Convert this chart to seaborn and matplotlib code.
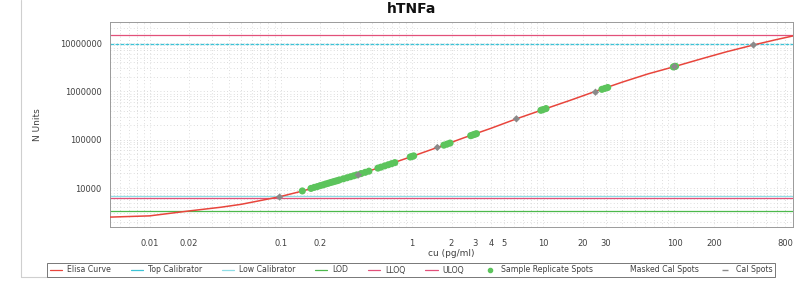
import matplotlib
matplotlib.use("Agg")
import matplotlib.pyplot as plt
from matplotlib.lines import Line2D
import seaborn as sns
import pandas as pd

# ---------------- data ----------------
curve_x = [0.005, 0.01, 0.02, 0.035, 0.05, 0.07, 0.098, 0.15, 0.2, 0.3, 0.39, 0.6,
           1.0, 1.56, 2.5, 4.0, 6.25, 10, 16, 25, 40, 63, 100, 160, 250, 400, 600, 800]
curve_y = [2500, 2650, 3350, 4000, 4600, 5500, 6600, 8800, 11200, 15500, 19000, 28000,
           45000, 69000, 110000, 172000, 270000, 420000, 650000, 1000000, 1550000,
           2300000, 3250000, 4700000, 6600000, 9100000, 11800000, 14000000]

sample_x = [0.146, 0.17, 0.18, 0.19, 0.20, 0.21, 0.22, 0.23, 0.24, 0.25, 0.26, 0.27, 0.28,
            0.30, 0.32, 0.34, 0.36, 0.38, 0.41, 0.44, 0.47, 0.55, 0.58, 0.62, 0.66, 0.70,
            0.74, 0.97, 1.0, 1.03, 1.75, 1.85, 1.95, 2.8, 2.9, 3.0, 3.1, 9.6, 10, 10.5,
            28, 29.5, 31, 98, 100, 102]
sample_y = [8700, 9800, 10300, 10700, 11200, 11600, 12100, 12500, 13000, 13400, 13800,
            14200, 14700, 15500, 16300, 17100, 17900, 18700, 19900, 21100, 22300, 25800,
            27000, 28700, 30300, 31900, 33500, 43800, 45000, 46200, 77000, 81000, 85000,
            121000, 125000, 129000, 133000, 405000, 420000, 440000, 1100000, 1150000,
            1200000, 3200000, 3250000, 3300000]

cal_x = [0.098, 0.39, 1.56, 6.25, 25, 100, 400]
cal_y = [6500, 18600, 69000, 270000, 960000, 3250000, 9100000]

uloq = 14700000
top_calibrator = 9500000
low_calibrator = 6700
lloq = 6100
lod = 3350

x_ticks = [0.01, 0.02, 0.1, 0.2, 1, 2, 3, 4, 5, 10, 20, 30, 100, 200, 800]
x_tick_labels = ["0.01", "0.02", "0.1", "0.2", "1", "2", "3", "4", "5", "10", "20", "30",
                 "100", "200", "800"]
y_ticks = [10000, 100000, 1000000, 10000000]
y_tick_labels = ["10000", "100000", "1000000", "10000000"]

legend_labels = ["Elisa Curve", "Top Calibrator", "Low Calibrator", "LOD", "LLOQ", "ULOQ",
                 "Sample Replicate Spots", "Masked Cal Spots", "Cal Spots"]

# ---------------- styling ----------------
sns.set_style("white")
plt.rcParams["font.family"] = ["DejaVu Sans"]

C_CURVE = "#e8453c"
C_TOPCAL = "#3cc3d6"
C_LOWCAL = "#8fdde6"
C_LOD = "#4cb84c"
C_LLOQ = "#e2507a"
C_ULOQ = "#e2507a"
C_SAMPLE = "#5cc45c"
C_CAL = "#8a8a8a"
TXT = "#404040"

W, H = 796, 283
fig = plt.figure(figsize=(W / 100, H / 100), dpi=100)
L, R, T, B = 110, 793, 22, 227
ax = fig.add_axes([L / W, 1 - B / H, (R - L) / W, (B - T) / H])
ax.set_xscale("log")
ax.set_yscale("log")

df_curve = pd.DataFrame({"x": curve_x, "y": curve_y})
df_sample = pd.DataFrame({"x": sample_x, "y": sample_y})
df_cal = pd.DataFrame({"x": cal_x, "y": cal_y})

ax.axhline(uloq, color=C_ULOQ, lw=0.9, zorder=2)
ax.axhline(top_calibrator, color=C_TOPCAL, lw=0.9, ls=(0, (3, 1)), zorder=2)
ax.axhline(low_calibrator, color=C_LOWCAL, lw=0.9, zorder=2)
ax.axhline(lloq, color=C_LLOQ, lw=0.9, zorder=2)
ax.axhline(lod, color=C_LOD, lw=0.9, zorder=2)

sns.lineplot(data=df_curve, x="x", y="y", ax=ax, color=C_CURVE, lw=1.1, zorder=3,
             sort=True, estimator=None)
sns.scatterplot(data=df_sample, x="x", y="y", ax=ax, color=C_SAMPLE, s=26,
                edgecolor="none", zorder=4)
sns.scatterplot(data=df_cal, x="x", y="y", ax=ax, color=C_CAL, s=14, marker="D",
                edgecolor="none", zorder=5)

ax.set_xlim(0.005, 800)
ax.set_ylim(1560, 27200000)

ax.grid(which="both", linestyle=(0, (1, 3)), color="#d2d2d2", linewidth=0.6, zorder=0)
ax.set_axisbelow(True)

ax.set_xticks(x_ticks)
ax.set_xticklabels(x_tick_labels)
ax.set_yticks(y_ticks)
ax.set_yticklabels(y_tick_labels)
ax.tick_params(axis="x", which="major", length=0, pad=9, labelsize=6, labelcolor=TXT)
ax.tick_params(axis="y", which="major", length=3, width=0.6, color="#888888", pad=3,
               labelsize=6, labelcolor=TXT)
ax.tick_params(which="minor", length=0)
ax.get_xticklabels()[-1].set_horizontalalignment("right")
for s in ax.spines.values():
    s.set_color("#9a9a9a")
    s.set_linewidth(0.7)

ax.set_xlabel("cu (pg/ml)", fontsize=6.5, color=TXT)
ax.set_ylabel("N Units", fontsize=6.5, color=TXT)
ax.xaxis.set_label_coords(0.5, (B - 249) / (B - T))
ax.yaxis.set_label_coords((42 - L) / (R - L), 0.5)

fig.text(412 / W, 1 - 9 / H, "hTNFa", ha="center", va="center", fontsize=10,
         fontweight="bold", color="#111111")

handles = [
    Line2D([], [], color=C_CURVE, lw=0.9),
    Line2D([], [], color=C_TOPCAL, lw=0.9),
    Line2D([], [], color=C_LOWCAL, lw=0.9),
    Line2D([], [], color=C_LOD, lw=0.9),
    Line2D([], [], color=C_LLOQ, lw=0.9),
    Line2D([], [], color=C_ULOQ, lw=0.9),
    Line2D([], [], color=C_SAMPLE, lw=0, marker="o", markersize=3),
    Line2D([], [], color="white", lw=0, marker="s", markersize=2),
    Line2D([], [], color=C_CAL, lw=0, marker="_", markersize=4),
]
leg = fig.legend(handles, legend_labels, loc="center", bbox_to_anchor=(411 / W, 1 - 270 / H),
                 ncol=9, fontsize=5.6, frameon=True, fancybox=False, handlelength=1.6,
                 handletextpad=0.6, columnspacing=2.55, borderpad=0.35, labelcolor=TXT)
leg.get_frame().set_edgecolor("#555555")
leg.get_frame().set_linewidth(0.7)

# outer panel border
fig.add_artist(Line2D([21 / W, 21 / W], [1 - 277 / H, 1.0], color="#cfcfcf", lw=0.8))
fig.add_artist(Line2D([21 / W, 47 / W], [1 - 277 / H, 1 - 277 / H], color="#cfcfcf", lw=0.8))

fig.savefig("out.png", dpi=100)
